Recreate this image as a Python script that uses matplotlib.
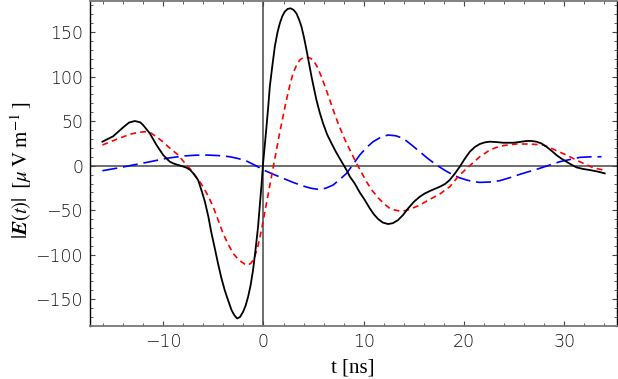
import matplotlib
matplotlib.use("Agg")
import matplotlib.pyplot as plt
from matplotlib.ticker import MultipleLocator

plt.rcParams['mathtext.fontset'] = 'stix'

# black solid curve
t_black = [-16.06, -15.0, -14.0, -13.4, -12.83, -12.3, -12.0, -11.34, -10.67, -10.0, -9.34,
           -8.9, -8.5, -8.1, -7.68, -7.3, -7.0, -6.52, -6.2, -5.85, -5.5, -5.18, -4.85, -4.53, -4.2, -3.86, -3.5, -3.19,
           -2.9, -2.63, -2.35, -2.03, -1.78, -1.53, -1.28, -1.04, -0.8, -0.54, -0.37, -0.2, -0.04, 0.13, 0.3, 0.47, 0.63, 0.88, 1.13,
           1.38, 1.63, 1.88, 2.12, 2.4, 2.69, 3.0, 3.29, 3.55, 3.79, 4.04, 4.29, 4.54, 4.79, 5.03, 5.28, 5.6, 5.94, 6.35, 6.78,
           7.2, 7.61, 7.95, 8.28, 8.6, 9.1, 9.6, 10.1, 10.6, 11.0, 11.43, 11.9, 12.42, 12.9, 13.42, 13.9,
           14.42, 15.0, 15.58, 16.08, 16.58, 17.08, 17.58, 18.1, 18.57, 19.07, 19.57, 20.07, 20.57, 21.07, 21.57, 22.06, 22.56, 23.2, 23.89,
           24.89, 25.55, 26.22, 26.72, 27.22, 27.72, 28.22, 28.7, 29.21, 29.7, 30.21, 30.7, 31.2, 31.85, 32.53, 33.3, 34.03]
v_black = [27, 33, 43, 48.5, 50.2, 48.8, 45.7, 36.4, 23.3, 12, 4.5,
           2.2, 0.8, -0.5, -2.2, -4.8, -8.6, -16, -27, -40, -57, -76, -93, -110, -126, -140, -152, -162,
           -168, -171.5, -170, -164, -157, -147, -134, -117, -95, -68.5, -45, -22, 2.7, 23, 43.8, 66, 88.8, 112, 133.7,
           149, 160, 168, 173, 176, 176.8, 175, 171, 164, 156, 144, 130, 115, 100, 87, 73.8, 60, 47.6, 35, 25.2,
           16, 8, 1.5, -4.8, -12, -20, -30, -38.5, -47.9, -54.5, -59.9, -63.8, -65.5, -64.5, -61, -55.5,
           -47.9, -40.5, -34.8, -31.2, -28.4, -26, -23.6, -20.5, -16, -9, -1.1, 7.8, 15.7, 21, 24.4, 26.2, 27, 26.6, 25.8,
           25.8, 26.7, 27.8, 27.8, 27, 25, 21.3, 17, 12, 8, 4.5, 1.2, -1.8, -3.6, -4.8, -6.5, -8.6]

# red short-dashed curve
t_red = [-16.06, -14.66, -13.33, -12.5, -11.83, -11.2, -10.67, -10.1, -9.5, -9.0, -8.5, -8.1, -7.68, -7.25, -6.85, -6.45, -6.02,
         -5.52, -5.02, -4.52, -4.03, -3.53, -3.03, -2.6, -2.19, -1.85, -1.53, -1.2, -0.87, -0.55, -0.2, 0.05, 0.3, 0.55, 0.8, 1.05, 1.3,
         1.63, 1.96, 2.29, 2.62, 2.95, 3.3, 3.62, 3.95, 4.29, 4.62, 4.95, 5.36, 5.78, 6.2, 6.61, 7.02, 7.44, 7.86, 8.28,
         8.78, 9.27, 9.77, 10.27, 10.85, 11.43, 12.0, 12.59, 13.1, 13.59, 14.1, 14.59, 15.58, 16.58, 17.58, 18.57,
         19.5, 20.57, 21.57, 22.56, 23.2, 23.89, 24.55, 25.22, 26.55, 27.88, 28.55, 29.21, 29.9, 30.54,
         31.54, 32.2, 32.86, 33.86]
v_red = [23.3, 29.6, 35.3, 37.4, 38.2, 36.5, 32.6, 27.5, 21.3, 16.7, 12, 6.5, 0.8, -4.5, -10.4, -16.5, -23.6,
         -34, -46, -61, -76, -88, -98.4, -104, -108, -110.5, -111.6, -109, -102, -90, -72, -57, -42, -27, -12, 3, 18,
         38, 56, 74, 90, 104, 113, 118.8, 121.3, 121.8, 121, 118.8, 111, 100, 87, 73.8, 60.5, 47.6, 36, 25.2,
         14, 2.7, -7.5, -18, -28, -36, -42.5, -47.9, -49.8, -50.9, -50.5, -49, -44.2, -37.8, -31.8, -23.6,
         -11, 0, 10.1, 17.6, 20.5, 22.5, 23.6, 24.4, 24.4, 23.3, 20.5, 16.9, 13.5, 10.1,
         4.5, 1.2, -2.2, -4.8]

# blue long-dashed curve
t_blue = [-16.06, -14.5, -13.0, -11.3, -9.67, -8.0, -6.8, -5.68, -4.5, -3.36, -2.5, -1.7, -0.85, 0.0,
          0.98, 1.96, 2.95, 3.95, 4.7, 5.44, 6.2, 6.94, 7.6, 8.28, 8.95, 9.6, 10.25, 10.93, 11.7, 12.42, 13.2, 13.92, 14.75, 15.58,
          16.4, 17.25, 18.1, 18.9, 19.57, 20.24, 20.9, 21.57, 22.55, 23.56, 24.55, 25.55, 27.55, 29.54, 31.54, 32.6, 33.7]
v_blue = [-5.6, -2.5, 0.8, 4.5, 8.3, 10.9, 11.8, 12, 11.4, 10.1, 8, 5.3, 0.6, -4.8,
          -9.6, -14.2, -18.7, -22.8, -25.2, -26.5, -25.3, -21.7, -15.5, -8.6, 1.8, 12, 20.2, 27, 32, 34.5, 33.6, 30.8, 23.5, 15.7,
          8, 0.8, -5.3, -10.4, -13.6, -16, -17.8, -18.7, -18.3, -16.8, -13.5, -9.7, -2.9, 4.5, 9.4, 10, 10.1]

fig = plt.figure(figsize=(6.18, 3.79), dpi=100)
ax = fig.add_axes([0.1456, 0.1398, 0.852, 0.8576])

ax.axhline(0, color='#6e6e6e', lw=1.4, zorder=1)
ax.axvline(0, color='#6e6e6e', lw=1.4, zorder=1)

ax.plot(t_blue, v_blue, color='#0000ff', lw=1.2, dashes=(9, 3.5), zorder=2)
ax.plot(t_red, v_red, color='#ff0000', lw=1.2, dashes=(3.5, 2.5), zorder=3)
ax.plot(t_black, v_black, color='black', lw=1.3, zorder=4)

ax.set_xlim(-17.3, 35.2)
ax.set_ylim(-180, 185)

ax.xaxis.set_major_locator(MultipleLocator(10))
ax.xaxis.set_minor_locator(MultipleLocator(2))
ax.yaxis.set_major_locator(MultipleLocator(50))
ax.yaxis.set_minor_locator(MultipleLocator(10))
ax.tick_params(which='both', direction='in', top=True, right=True, color='#444444')
ax.tick_params(which='major', length=3.5, width=0.8, labelsize=12.5, pad=5, labelcolor='#111111')
ax.tick_params(which='minor', length=2, width=0.6)
for lab in ax.get_xticklabels() + ax.get_yticklabels():
    lab.set_fontweight('light')

for s in ['bottom', 'top']:
    ax.spines[s].set_color('#777777')
    ax.spines[s].set_linewidth(1.3)
for s in ['left', 'right']:
    ax.spines[s].set_color('black')
    ax.spines[s].set_linewidth(1.0)

ax.set_xlabel('t [ns]', fontsize=15, family='Liberation Serif', va='center')
ax.xaxis.set_label_coords(0.5, -0.13)
ax.set_ylabel(r'$|\mathbfit{E}(t)|\;\;[\mu\;\mathrm{V\;m}^{-1}\;]$', fontsize=15, va='center')
ax.yaxis.set_label_coords(-0.13, 0.48)

fig.savefig('out.png', dpi=100)
